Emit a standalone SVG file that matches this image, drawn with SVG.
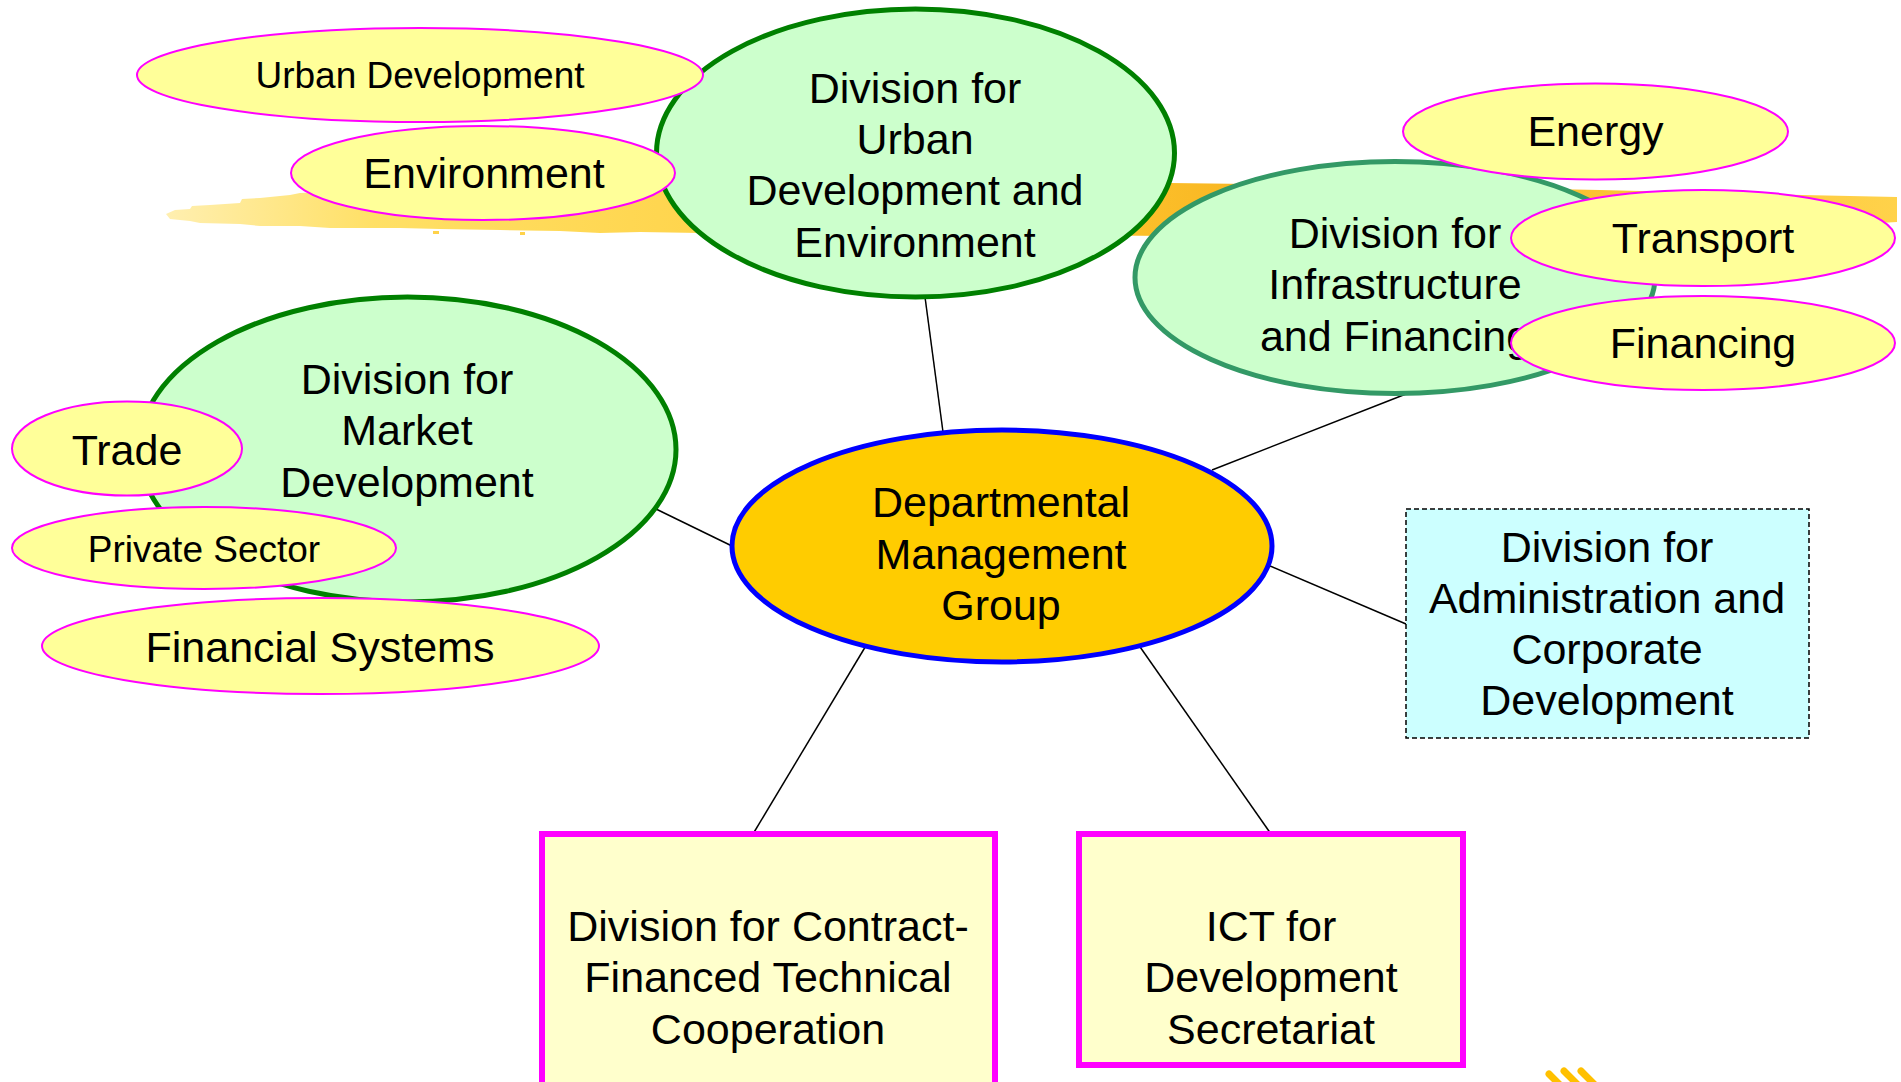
<svg xmlns="http://www.w3.org/2000/svg" width="1901" height="1082" viewBox="0 0 1901 1082">
<defs>
<linearGradient id="brush" x1="0" y1="0" x2="1" y2="0">
<stop offset="0" stop-color="#FFEFB0"/>
<stop offset="0.12" stop-color="#FFE066"/>
<stop offset="0.5" stop-color="#FFC933"/>
<stop offset="0.65" stop-color="#F7B21E"/>
<stop offset="1" stop-color="#FFD24A"/>
</linearGradient>
<style>
text{font-family:"Liberation Sans",Arial,sans-serif;fill:#000;text-anchor:middle}
.t43{font-size:43px}
.t37{font-size:37px}
.sub{fill:#FFFF99;stroke:#FF00FF;stroke-width:2}
.div{fill:#CCFFCC;stroke:#008000;stroke-width:5}
.conn line{stroke:#000;stroke-width:1.5}
.box{fill:#FFFFCC;stroke:#FF00FF;stroke-width:6}
.speck{fill:#FFD24A}
</style>
</defs>
<rect width="1901" height="1082" fill="#FFFFFF"/>
<g id="decor">
<path d="M166,214 L175,210 L190,209 L192,206 L210,205 L240,203 L242,199 L260,198 L290,195 L300,193 L330,192 L360,191 L420,190 L520,189 L640,190 L760,188 L900,186 L1050,184 L1170,183 L1250,184 L1400,186 L1600,190 L1760,194 L1850,196 L1897,197 L1897,222 L1880,223 L1840,225 L1700,228 L1500,232 L1300,236 L1180,236 L1000,235 L800,232 L700,233 L640,232 L600,233 L560,231 L500,230 L440,229 L400,228 L330,228 L300,226 L260,226 L240,224 L200,223 L190,221 L170,219 Z" fill="url(#brush)"/>
<rect class="speck" x="433" y="231" width="6" height="3"/>
<rect class="speck" x="520" y="232" width="5" height="3"/>
<rect class="speck" x="1433" y="192" width="4" height="3"/>
<rect class="speck" x="1442" y="192" width="4" height="3"/>
<g stroke="#FFC000" stroke-width="7" stroke-linecap="round">
<line x1="1549" y1="1074" x2="1560" y2="1085"/>
<line x1="1564" y1="1071" x2="1578" y2="1085"/>
<line x1="1581" y1="1071" x2="1595" y2="1085"/>
</g>
</g>
<g id="connectors" class="conn">
<line x1="925" y1="297" x2="943" y2="432"/>
<line x1="1406" y1="394" x2="1212" y2="470"/>
<line x1="656" y1="509" x2="734" y2="547"/>
<line x1="1270" y1="566" x2="1406" y2="624"/>
<line x1="867" y1="644" x2="753" y2="834"/>
<line x1="1138" y1="644" x2="1271" y2="834"/>
</g>
<g id="div-urban">
<ellipse class="div" cx="915.5" cy="153" rx="259" ry="144"/>
<text class="t43" x="915" y="103">Division for</text>
<text class="t43" x="915" y="154">Urban</text>
<text class="t43" x="915" y="205">Development and</text>
<text class="t43" x="915" y="257">Environment</text>
</g>
<g id="urban-development">
<ellipse class="sub" cx="420" cy="75" rx="283" ry="47"/>
<text class="t37" x="420" y="88">Urban Development</text>
</g>
<g id="environment">
<ellipse class="sub" cx="483" cy="173" rx="192" ry="47"/>
<text class="t43" x="484" y="188">Environment</text>
</g>
<g id="div-infra">
<ellipse cx="1395" cy="277.5" rx="260" ry="116" fill="#CCFFCC" stroke="#339966" stroke-width="5"/>
<text class="t43" x="1395" y="248">Division for</text>
<text class="t43" x="1395" y="299">Infrastructure</text>
<text class="t43" x="1395" y="351">and Financing</text>
</g>
<g id="energy">
<ellipse class="sub" cx="1595.5" cy="131.5" rx="192.5" ry="48"/>
<text class="t43" x="1595.5" y="146">Energy</text>
</g>
<g id="transport">
<ellipse class="sub" cx="1703" cy="238" rx="192" ry="48"/>
<text class="t43" x="1703" y="253">Transport</text>
</g>
<g id="financing">
<ellipse class="sub" cx="1703" cy="343" rx="192" ry="47"/>
<text class="t43" x="1703" y="358">Financing</text>
</g>
<g id="div-market">
<ellipse class="div" cx="407.5" cy="449.5" rx="268.5" ry="152.5"/>
<text class="t43" x="407" y="394">Division for</text>
<text class="t43" x="407" y="445">Market</text>
<text class="t43" x="407" y="497">Development</text>
</g>
<g id="trade">
<ellipse class="sub" cx="127" cy="448.5" rx="115" ry="47"/>
<text class="t43" x="127" y="465">Trade</text>
</g>
<g id="private-sector">
<ellipse class="sub" cx="204" cy="548" rx="192" ry="41"/>
<text class="t37" x="204" y="562">Private Sector</text>
</g>
<g id="financial-systems">
<ellipse class="sub" cx="320.5" cy="646" rx="278.5" ry="48"/>
<text class="t43" x="320" y="662">Financial Systems</text>
</g>
<g id="dmg">
<ellipse cx="1002" cy="546" rx="270" ry="116" fill="#FFCC00" stroke="#0000FF" stroke-width="5"/>
<text class="t43" x="1001" y="517">Departmental</text>
<text class="t43" x="1001" y="569">Management</text>
<text class="t43" x="1001" y="620">Group</text>
</g>
<g id="div-admin">
<rect x="1406" y="509" width="403" height="229" fill="#CCFFFF" stroke="#000" stroke-width="1.5" stroke-dasharray="5,3"/>
<text class="t43" x="1607" y="562">Division for</text>
<text class="t43" x="1607" y="613">Administration and</text>
<text class="t43" x="1607" y="664">Corporate</text>
<text class="t43" x="1607" y="715">Development</text>
</g>
<g id="div-contract">
<rect class="box" x="542" y="834" width="453" height="254"/>
<text class="t43" x="768" y="941">Division for Contract-</text>
<text class="t43" x="768" y="992">Financed Technical</text>
<text class="t43" x="768" y="1044">Cooperation</text>
</g>
<g id="ict">
<rect class="box" x="1079" y="834" width="384" height="231"/>
<text class="t43" x="1271" y="941">ICT for</text>
<text class="t43" x="1271" y="992">Development</text>
<text class="t43" x="1271" y="1044">Secretariat</text>
</g>
</svg>
